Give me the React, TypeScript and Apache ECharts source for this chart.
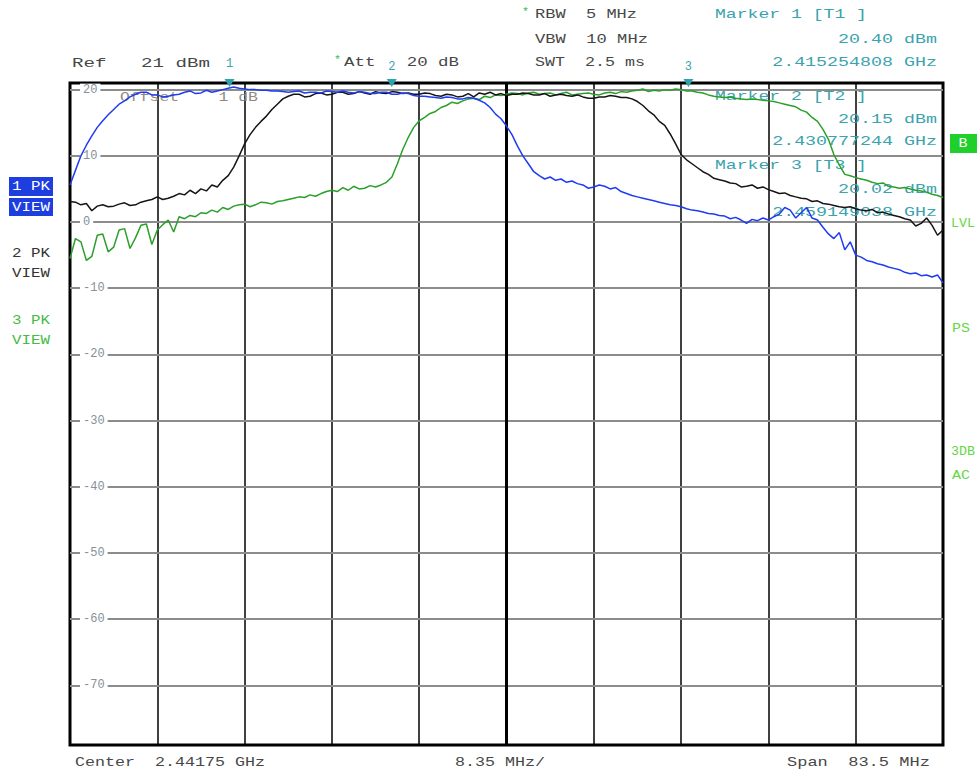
import React, { useEffect, useRef } from "react";
import * as echarts from "echarts";

// ---- Sweep settings (frequency offset from 2.4 GHz start, MHz) ----
const SPAN_MHZ = 83.5;
const DIV_MHZ = 8.35;
const CENTER_OFFSET_MHZ = 41.75;
const REF_DBM = 21;
const BOTTOM_DBM = -79;
const gridLevels = [20, 10, 0, -10, -20, -30, -40, -50, -60, -70];

// ---- Trace values (dBm), read at 161 equally spaced sweep points ----
const trace1 = [
  5.6, 7.8, 10.0, 11.6, 13.0, 14.3, 15.3, 16.2, 17.0, 17.8,
  18.3, 18.9, 19.3, 19.6, 19.6, 19.2, 19.2, 18.9, 19.0, 19.2,
  19.3, 19.6, 19.8, 19.4, 19.5, 19.9, 19.6, 19.8, 20.0, 20.2,
  20.4, 20.2, 20.1, 20.0, 20.0, 19.9, 19.9, 19.8, 19.8, 19.7,
  19.6, 19.7, 19.8, 19.5, 19.6, 19.6, 19.5, 19.8, 19.7, 19.6,
  19.8, 19.6, 19.5, 19.7, 19.6, 19.4, 19.4, 19.6, 19.6, 19.3,
  19.3, 19.5, 19.4, 19.1, 19.0, 19.0, 18.9, 18.8, 18.7, 18.9,
  18.8, 18.6, 18.6, 18.8, 18.7, 18.4, 18.0, 17.3, 16.3, 15.6,
  14.5, 13.2, 11.5, 10.0, 8.8, 7.6, 7.0, 6.5, 6.8, 6.3,
  6.5, 6.0, 6.2, 5.8, 5.6, 5.1, 5.3, 5.6, 5.4, 5.0,
  5.2, 4.6, 4.3, 4.0, 3.8, 3.6, 3.4, 3.2, 3.0, 2.8,
  2.6, 2.5, 2.3, 2.0, 1.8, 1.7, 1.5, 1.3, 1.2, 1.0,
  0.9, 0.5, 0.7, 0.3, -0.2, 0.4, 0.2, 0.6, 0.3, 0.8,
  1.2, 2.2, 1.8, 0.6, 1.4, 2.2, 0.6, 0.3, -0.8, -1.8,
  -2.5, -1.6, -4.2, -3.0, -5.0, -5.3, -5.8, -6.0, -6.3, -6.5,
  -6.8, -7.0, -7.2, -7.6, -7.8, -7.7, -8.1, -8.0, -8.3, -8.0,
  -9.2,
];
const trace2 = [
  3.1, 3.0, 2.6, 2.8, 1.7, 2.4, 2.6, 2.3, 2.4, 2.7,
  2.9, 2.5, 2.6, 3.0, 3.2, 3.4, 3.8, 3.4, 3.6, 3.9,
  4.3, 4.1, 4.8, 4.3, 5.0, 4.7, 5.6, 5.3, 6.3, 7.0,
  8.3, 10.0, 11.8, 13.2, 14.3, 15.2, 16.0, 17.0, 17.8, 18.6,
  19.0, 19.3, 19.3, 18.9, 19.0, 19.4, 19.5, 19.2, 19.3, 19.6,
  19.6, 19.3, 19.4, 19.7, 19.5, 19.3, 19.7, 19.5, 19.4, 19.7,
  19.6, 19.4, 19.5, 19.3, 19.3, 19.5, 19.4, 19.1, 19.0, 19.3,
  19.2, 18.9, 19.0, 19.4, 18.9, 19.5, 19.3, 19.6, 19.2, 19.4,
  19.1, 19.3, 19.3, 19.5, 19.4, 19.2, 19.2, 19.4, 19.0, 19.2,
  19.3, 19.1, 19.0, 19.2, 18.9, 18.7, 18.7, 18.9, 18.9, 19.1,
  19.0, 18.8, 18.8, 18.6, 18.2, 17.6, 16.8, 16.2, 15.2, 14.6,
  13.3, 11.8, 10.2, 9.4, 8.8, 8.2, 7.6, 7.2, 6.6, 6.4,
  6.2, 5.9, 5.8, 5.3, 5.4, 5.6, 5.1, 5.3, 4.9, 4.6,
  4.3, 4.4, 4.0, 3.8, 3.6, 3.5, 3.1, 3.2, 2.8, 2.7,
  2.5, 2.3, 2.2, 2.3, 2.0, 1.8, 1.7, 1.9, 1.4, 1.5,
  1.2, 1.0, 0.8, 0.5, 0.3, -0.6, -0.2, 0.6, -0.5, -2.0,
  -1.2,
];
const trace3 = [
  -5.5, -2.5, -3.0, -5.8, -5.2, -2.0, -1.8, -4.5, -3.8, -1.2,
  -1.0, -4.0, -2.4, -0.5, -0.3, -3.4, -1.2, -0.4, 0.3, -1.5,
  0.8, 0.5, 1.0, 0.8, 1.4, 1.3, 1.8, 1.5, 2.2, 1.9,
  2.4, 2.6, 2.7, 2.3, 2.6, 3.0, 2.9, 2.7, 3.1, 3.2,
  3.4, 3.6, 3.8, 3.7, 4.1, 3.9, 4.3, 4.6, 4.8, 4.6,
  5.2, 4.8, 5.4, 5.0, 5.1, 5.5, 5.3, 5.6, 6.0, 6.8,
  8.8, 11.0, 12.8, 14.3, 15.3, 15.8, 16.4, 16.7, 17.3, 17.6,
  18.1, 17.9, 18.3, 18.6, 18.7, 18.5, 19.0, 18.8, 19.2, 19.1,
  19.3, 19.5, 19.4, 19.2, 19.5, 19.6, 19.3, 19.4, 19.5, 19.2,
  19.4, 19.6, 19.2, 19.3, 19.4, 19.5, 19.3, 19.2, 19.5, 19.6,
  19.4, 19.7, 19.6, 19.8, 19.9, 20.1, 19.7, 19.9, 19.8, 20.0,
  19.9, 20.1, 20.0, 19.8, 19.8, 19.6, 19.5, 19.2, 19.0, 18.9,
  18.8, 18.9, 18.7, 18.6, 18.5, 18.6, 18.5, 18.4, 18.3, 18.2,
  18.0, 17.8, 17.6, 17.4, 16.9, 16.6, 15.8, 15.2, 14.0, 12.5,
  10.2, 8.6, 7.2, 7.0, 6.7, 6.5, 6.3, 6.0, 5.8, 5.9,
  5.4, 5.3, 5.1, 5.2, 5.0, 4.8, 4.7, 4.5, 4.2, 4.0,
  3.7,
];

// ---- Markers ----
const markerIds = ["1", "2", "3"];
const markerOffsetsMhz = [15.254808, 30.777244, 59.149038];
const markerTexts = [
  ["Marker 1 [T1 ]", "20.40 dBm", "2.415254808 GHz"],
  ["Marker 2 [T2 ]", "20.15 dBm", "2.430777244 GHz"],
  ["Marker 3 [T3 ]", "20.02 dBm", "2.459149038 GHz"],
];

const MONO = '"Liberation Mono", "DejaVu Sans Mono", monospace';
const FS = 13;

function toPoints(vals: number[]) {
  return vals.map((v, i) => [(i * SPAN_MHZ) / (vals.length - 1), v]);
}

function txt(
  text: string,
  x: number,
  y: number,
  width: number,
  color: string,
  align: "left" | "right" | "center" = "left",
  z = 5,
  fontSize = FS
) {
  const cw = fontSize * 0.6;
  return {
    type: "text",
    x,
    y,
    z,
    silent: true,
    scaleX: width / (text.length * cw),
    style: {
      text,
      fill: color,
      fontFamily: MONO,
      fontSize,
      align,
      verticalAlign: "middle",
    },
  };
}

export default function App() {
  const ref = useRef<HTMLDivElement>(null);

  useEffect(() => {
    if (!ref.current) return;
    const chart = echarts.init(ref.current, undefined, { renderer: "svg" });

    const dark = "#474747";
    const teal = "#3aa3ad";
    const green = "#3cbf3c";
    const lime = "#66d645";

    const graphics: any[] = [
      txt("Ref   21 dBm", 72, 63, 138, dark),
      txt("*", 334, 60, 7, green, "left", 5, 11),
      txt("Att   20 dB", 344, 63, 115, dark),
      txt("*", 522, 12, 7, green, "left", 5, 11),
      txt("RBW  5 MHz", 535, 15, 102, dark),
      txt("VBW  10 MHz", 535, 40, 113, dark),
      txt("SWT  2.5 ms", 535, 63, 110, dark),
      txt(markerTexts[0][0], 715, 15, 152, teal),
      txt(markerTexts[0][1], 937, 40, 99, teal, "right"),
      txt(markerTexts[0][2], 937, 63, 165, teal, "right"),
      txt(markerTexts[1][0], 715, 97, 152, teal, "left", 1),
      txt(markerTexts[1][1], 937, 120, 99, teal, "right", 1),
      txt(markerTexts[1][2], 937, 142, 165, teal, "right", 1),
      txt(markerTexts[2][0], 715, 166, 152, teal, "left", 1),
      txt(markerTexts[2][1], 937, 190, 99, teal, "right", 1),
      txt(markerTexts[2][2], 937, 213, 165, teal, "right", 1),
      txt("Offset    1 dB", 120, 97, 138, "#8e8a84", "left", 1),
      // bottom
      txt("Center  2.44175 GHz", 75, 763, 190, dark),
      txt("8.35 MHz/", 455, 763, 90, dark),
      txt("Span  83.5 MHz", 787, 763, 143, dark),
      // left trace labels
      { type: "rect", shape: { x: 9, y: 177, width: 44, height: 19 }, style: { fill: "#1d3fe0" }, z: 4, silent: true },
      { type: "rect", shape: { x: 9, y: 198, width: 44, height: 18 }, style: { fill: "#1d3fe0" }, z: 4, silent: true },
      txt("1 PK", 12, 186, 38, "#ffffff"),
      txt("VIEW", 12, 207, 38, "#ffffff"),
      txt("2 PK", 12, 253, 38, "#333333"),
      txt("VIEW", 12, 273, 38, "#333333"),
      txt("3 PK", 12, 320, 38, "#44bb44"),
      txt("VIEW", 12, 340, 38, "#44bb44"),
      // right side
      { type: "rect", shape: { x: 950, y: 134, width: 27, height: 19 }, style: { fill: "#1fcf2a" }, z: 4, silent: true },
      txt("B", 963, 143, 9, "#ffffff", "center"),
      txt("LVL", 951, 224, 24, lime),
      txt("PS", 952, 328, 18, lime),
      txt("3DB", 951, 452, 24, lime),
      txt("AC", 952, 475, 18, lime),
    ];

    const lineCommon = {
      type: "line" as const,
      showSymbol: false,
      symbol: "none",
      silent: true,
      z: 3,
    };

    const option: any = {
      animation: false,
      backgroundColor: "#ffffff",
      grid: {
        left: 70,
        right: 34,
        top: 83,
        bottom: 29,
        show: true,
        borderColor: "#000000",
        borderWidth: 3,
        backgroundColor: "#ffffff",
      },
      xAxis: {
        type: "value",
        min: 0,
        max: SPAN_MHZ,
        interval: DIV_MHZ,
        axisLabel: { show: false },
        axisTick: { show: false },
        axisLine: { show: false },
        splitLine: { show: true, lineStyle: { color: "#000000", width: 1.5 } },
      },
      yAxis: {
        type: "value",
        min: BOTTOM_DBM,
        max: REF_DBM,
        z: 2,
        axisLine: { show: false },
        axisTick: { show: false },
        splitLine: { show: false },
        axisLabel: {
          inside: true,
          customValues: gridLevels,
          margin: 10,
          color: "#86909a",
          fontFamily: MONO,
          fontSize: 12,
          backgroundColor: "#ffffff",
          padding: [0, 3],
        },
      },
      graphic: graphics,
      series: [
        {
          type: "line",
          name: "grid",
          data: [],
          z: 1,
          silent: true,
          markLine: {
            z: 1,
            silent: true,
            symbol: "none",
            label: { show: false },
            lineStyle: { color: "#8c8c8c", width: 2, type: "solid" },
            data: [
              ...gridLevels.map((v) => ({ yAxis: v })),
              { xAxis: CENTER_OFFSET_MHZ, lineStyle: { color: "#000000", width: 3, type: "solid" } },
            ],
          },
        },
        {
          ...lineCommon,
          name: "3 PK VIEW",
          data: toPoints(trace3),
          lineStyle: { color: "#2aa02a", width: 1.5 },
        },
        {
          ...lineCommon,
          name: "2 PK VIEW",
          data: toPoints(trace2),
          lineStyle: { color: "#151515", width: 1.5 },
        },
        {
          ...lineCommon,
          name: "1 PK VIEW",
          data: toPoints(trace1),
          lineStyle: { color: "#1f3cf2", width: 1.5 },
          markPoint: {
            silent: true,
            symbol: "triangle",
            symbolRotate: 180,
            symbolSize: [10, 8],
            itemStyle: { color: "#2fa3ab" },
            label: {
              show: true,
              position: "top",
              distance: 9,
              color: teal,
              fontFamily: MONO,
              fontSize: 12,
              formatter: (p: any) => p.name,
            },
            data: markerIds.map((id, i) => ({
              name: id,
              coord: [markerOffsetsMhz[i], REF_DBM],
              label: i === 0 ? {} : { offset: [0, 3] },
            })),
          },
        },
      ],
    };

    chart.setOption(option);
    return () => chart.dispose();
  }, []);

  return (
    <div
      ref={ref}
      style={{ position: "absolute", left: 0, top: 0, width: 977, height: 774, background: "#fff" }}
    />
  );
}
